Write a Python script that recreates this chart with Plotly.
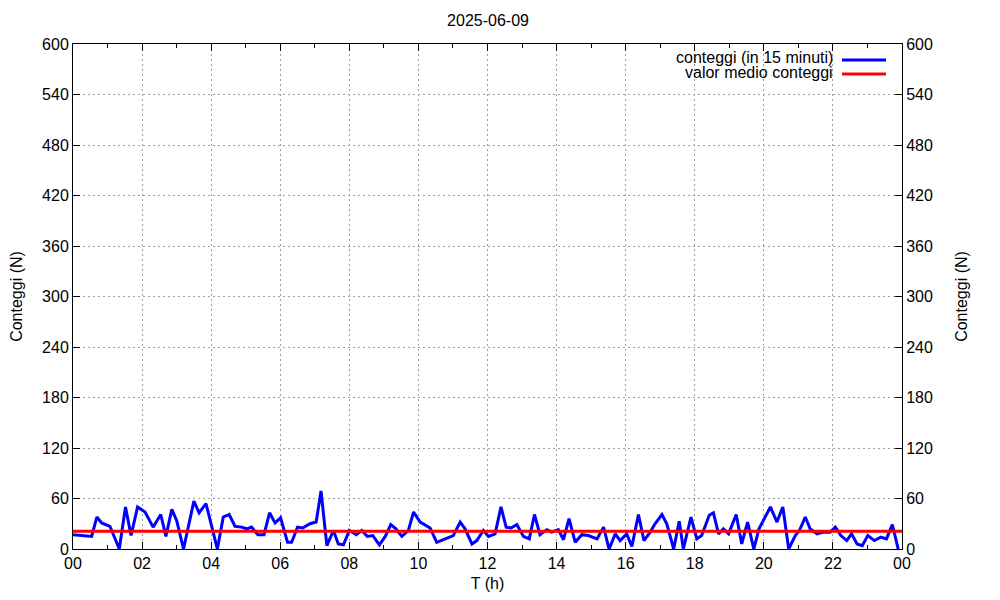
import plotly.graph_objects as go

# Data (time in hours, counts per 15 minutes)
times_h = [0.00, 0.25, 0.54, 0.69, 0.83, 1.07, 1.34, 1.52, 1.68, 1.87, 2.085, 2.32, 2.54, 2.69, 2.86, 3.0,
           3.2, 3.5, 3.65, 3.85, 4.18, 4.35, 4.52, 4.69, 4.88, 5.03, 5.17, 5.35, 5.53, 5.69, 5.85, 6.01,
           6.21, 6.33, 6.5, 6.65, 6.86, 7.04, 7.18, 7.35, 7.54, 7.68, 7.83, 8.0, 8.2, 8.36, 8.52, 8.68,
           8.87, 9.04, 9.2, 9.35, 9.52, 9.71, 9.86, 10.05, 10.34, 10.53, 10.72, 11.01, 11.21, 11.35, 11.55,
           11.69, 11.88, 12.03, 12.22, 12.39, 12.54, 12.68, 12.85, 13.04, 13.21, 13.36, 13.52, 13.72, 13.86,
           14.05, 14.2, 14.36, 14.54, 14.73, 14.92, 15.17, 15.36, 15.52, 15.7, 15.84, 16.03, 16.18, 16.37,
           16.53, 16.71, 16.85, 17.05, 17.19, 17.39, 17.55, 17.67, 17.89, 18.06, 18.2, 18.42, 18.54, 18.69,
           18.83, 18.98, 19.2, 19.36, 19.53, 19.71, 19.86, 20.09, 20.19, 20.38, 20.55, 20.72, 20.91, 21.03,
           21.2, 21.34, 21.54, 21.73, 21.92, 22.07, 22.23, 22.4, 22.54, 22.7, 22.85, 23.01, 23.2, 23.39,
           23.55, 23.72, 23.89]
counts = [17, 16, 15, 38, 31, 27, 0, 50, 16, 50, 44, 26, 41, 15, 47, 34,
          0, 57, 43, 54, 0, 38, 41, 27, 26, 24, 26, 17, 17, 43, 31, 37,
          8, 8, 26, 25, 30, 32, 69, 4, 22, 6, 5, 22, 17, 22, 15, 16,
          5, 15, 29, 24, 15, 22, 44, 32, 25, 8, 11, 16, 32, 24, 6,
          10, 22, 15, 18, 50, 26, 25, 29, 15, 12, 41, 17, 23, 20,
          23, 11, 36, 8, 17, 16, 12, 26, 0, 18, 10, 18, 3, 41,
          10, 20, 30, 41, 30, 0, 33, 0, 38, 12, 16, 40, 43, 18,
          24, 18, 41, 6, 32, 0, 24, 42, 50, 32, 50, 0, 16, 22,
          38, 24, 18, 20, 20, 26, 16, 10, 18, 6, 4, 16, 10, 14,
          12, 29, 0]
mean_count = 21
mean_x = [0, 24]

x_tickvals = [0, 2, 4, 6, 8, 10, 12, 14, 16, 18, 20, 22, 24]
x_ticktext = ["00", "02", "04", "06", "08", "10", "12", "14", "16", "18", "20", "22", "00"]
y_tickvals = [0, 60, 120, 180, 240, 300, 360, 420, 480, 540, 600]

title_text = "2025-06-09"
series_names = ["conteggi (in 15 minuti)", "valor medio conteggi"]

FONT = "Liberation Sans, Arial, sans-serif"
FS = 16

# The page body has an 8px margin, so the figure is sized to fit inside the window.
W, H = 984, 584
OFF = 8
PL, PR, PT, PB = 73 - OFF, 902 - OFF, 44 - OFF, 549 - OFF

fig = go.Figure()
fig.add_trace(go.Scatter(x=times_h, y=counts, mode="lines", name=series_names[0],
                         line=dict(color="#0000ff", width=3), showlegend=False))
fig.add_trace(go.Scatter(x=mean_x, y=[mean_count, mean_count], mode="lines", name=series_names[1],
                         line=dict(color="#ff0000", width=3), showlegend=False, yaxis="y2"))

axis_common = dict(showline=True, linecolor="black", linewidth=1, ticks="inside", ticklen=7,
                   tickcolor="black", showgrid=True, gridcolor="#a0a0a0", griddash="2px,3px", gridwidth=1,
                   zeroline=False, automargin=False, tickfont=dict(family=FONT, size=FS, color="black"))

fig.update_layout(
    width=W, height=H,
    paper_bgcolor="white", plot_bgcolor="white",
    margin=dict(l=PL, r=W - PR, t=PT, b=H - PB, autoexpand=False),
    font=dict(family=FONT, size=FS, color="black"),
    title=dict(text=title_text, x=(488 - OFF) / W, xanchor="center", y=1 - (20 - OFF) / H, yanchor="middle",
               font=dict(family=FONT, size=FS, color="black")),
    xaxis=dict(range=[0, 24], tickmode="array", tickvals=x_tickvals, ticktext=x_ticktext,
               mirror="ticks",
               minor=dict(ticks="inside", ticklen=4, dtick=1, tick0=0, showgrid=False, tickcolor="black"),
               title=dict(text="T (h)", standoff=8, font=dict(family=FONT, size=FS)),
               **axis_common),
    yaxis=dict(range=[0, 600], tickmode="array", tickvals=y_tickvals,
               title=dict(text="Conteggi (N)", standoff=20, font=dict(family=FONT, size=FS)),
               **{**axis_common, "automargin": True}),
    yaxis2=dict(range=[0, 600], tickmode="array", tickvals=y_tickvals, overlaying="y", side="right",
                title=dict(text="Conteggi (N)", standoff=23, font=dict(family=FONT, size=FS)),
                **{**axis_common, "showgrid": False}),
)

# Legend drawn in gnuplot style (text right-aligned, sample line to the right)
legend_rows = [(series_names[0], "#0000ff", 57, 60), (series_names[1], "#ff0000", 72, 74)]
for name, color, ty, ly in legend_rows:
    fig.add_annotation(text=name, xref="paper", yref="paper",
                       x=(835 - 73) / 829, y=(549 - ty) / 505, xanchor="right", yanchor="middle",
                       showarrow=False, font=dict(family=FONT, size=FS, color="black"))
    fig.add_shape(type="line", xref="paper", yref="paper",
                  x0=(842 - 73) / 829, x1=(886 - 73) / 829, y0=(549 - ly) / 505, y1=(549 - ly) / 505,
                  line=dict(color=color, width=3))

fig.write_html("out.html")
